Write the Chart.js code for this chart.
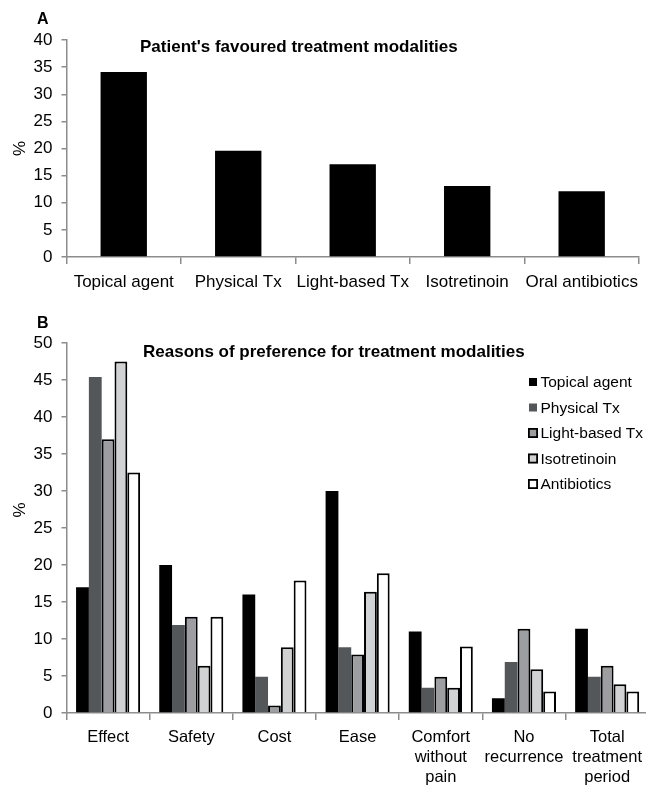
<!DOCTYPE html>
<html>
<head>
<meta charset="utf-8">
<script src="https://cdn.jsdelivr.net/npm/chart.js@4.4.1/dist/chart.umd.min.js"></script>
<style>
  html, body { margin: 0; padding: 0; background: #fff; overflow: hidden; }
  #wrap { position: relative; width: 646px; height: 788px; overflow: hidden; }
  canvas { position: absolute; left: 0; }
  #chartA { top: 0; }
  #chartB { top: 300px; }
</style>
</head>
<body>
<div id="wrap">
  <canvas id="chartA" width="646" height="300"></canvas>
  <canvas id="chartB" width="650" height="488"></canvas>
</div>
<script>
// panel A
const modalities = ["Topical agent", "Physical Tx", "Light-based Tx", "Isotretinoin", "Oral antibiotics"];
const favoured = [34.1, 19.6, 17.1, 13.1, 12.1];

// panel B
const reasons = ["Effect", "Safety", "Cost", "Ease", ["Comfort", "without", "pain"], ["No", "recurrence"], ["Total", "treatment", "period"]];
const seriesNames = ["Topical agent", "Physical Tx", "Light-based Tx", "Isotretinoin", "Antibiotics"];
const topical = [17, 20, 16, 30, 11, 2, 11.4];
const physical = [45.4, 11.9, 4.9, 8.9, 3.4, 6.9, 4.9];
const lightBased = [37, 13, 1, 7.9, 4.9, 11.4, 6.4];
const isotretinoin = [47.5, 6.4, 8.9, 16.4, 3.4, 5.9, 3.9];
const antibiotics = [32.5, 13, 17.9, 18.9, 9, 2.9, 2.9];

const FONT = "'Liberation Sans', Arial, sans-serif";
const axisGray = "#8c8c8c";

Chart.defaults.font.family = FONT;
Chart.defaults.color = "#000";

// letter, title and "%" drawn on top of each chart
const annotPlugin = {
  id: "annot",
  afterDraw(chart, args, opts) {
    const ctx = chart.ctx;
    const area = chart.chartArea;
    ctx.save();
    ctx.fillStyle = "#000";
    ctx.textBaseline = "middle";
    ctx.textAlign = "left";
    ctx.font = "bold 16px " + FONT;
    ctx.fillText(opts.letter, 37, opts.letterY);
    ctx.font = "bold 17px " + FONT;
    ctx.fillText(opts.title, opts.titleX, opts.titleY);
    ctx.translate(20, opts.pctY || (area.top + area.bottom) / 2);
    ctx.rotate(-Math.PI / 2);
    ctx.textAlign = "center";
    ctx.font = "17px " + FONT;
    ctx.fillText("%", 0, 0);
    ctx.restore();
  }
};

// legend inside the plot, top right
const boxLegend = {
  id: "boxLegend",
  afterDraw(chart, args, opts) {
    if (!opts.show) return;
    const ctx = chart.ctx;
    ctx.save();
    ctx.font = "15.5px " + FONT;
    ctx.textBaseline = "middle";
    chart.data.datasets.forEach((ds, i) => {
      const y = opts.y + i * opts.gap;
      const x = opts.x;
      const bw = ds.borderWidth || 0;
      const inset = bw ? 0 : 1;
      ctx.fillStyle = ds.backgroundColor;
      ctx.fillRect(x + inset, y - 5 + inset, 10 - 2 * inset, 10 - 2 * inset);
      if (bw) {
        ctx.strokeStyle = ds.borderColor;
        ctx.lineWidth = 1.8;
        ctx.strokeRect(x + 0.9, y - 4.1, 8.2, 8.2);
      }
      ctx.fillStyle = "#000";
      ctx.fillText(ds.label, x + 12.5, y + 1);
    });
    ctx.restore();
  }
};

function axes(yMax, xHeight, yWidth, xPad, xSize) {
  return {
    x: {
      offset: true,
      grid: { offset: true, drawOnChartArea: false, tickLength: 7, color: axisGray, lineWidth: 1.5 },
      border: { color: axisGray, width: 1.5 },
      ticks: { color: "#000", font: { size: xSize, lineHeight: 1.2 }, padding: xPad, maxRotation: 0, autoSkip: false },
      afterFit: s => { s.height = xHeight; }
    },
    y: {
      min: 0,
      max: yMax,
      ticks: { stepSize: 5, color: "#000", font: { size: 17 }, padding: 9 },
      grid: { drawOnChartArea: false, tickLength: 5, color: axisGray, lineWidth: 1.5 },
      border: { color: axisGray, width: 1.5 },
      afterFit: s => { s.width = yWidth; }
    }
  };
}

new Chart(document.getElementById("chartA"), {
  type: "bar",
  data: {
    labels: modalities,
    datasets: [{
      label: "Favoured",
      data: favoured,
      backgroundColor: "#000",
      borderWidth: 0,
      barPercentage: 0.405,
      categoryPercentage: 1
    }]
  },
  options: {
    responsive: false,
    animation: false,
    devicePixelRatio: 1,
    layout: { padding: { top: 40, right: 1, left: 0, bottom: 0 } },
    plugins: {
      legend: { display: false },
      tooltip: { enabled: false },
      annot: { letter: "A", letterY: 20, title: "Patient's favoured treatment modalities", titleX: 140, titleY: 47 },
      boxLegend: { show: false }
    },
    scales: axes(40, 43, 66.5, 8, 17)
  },
  plugins: [annotPlugin, boxLegend]
});

const fills = ["#000000", "#54575a", "#9c9ea1", "#d1d2d4", "#ffffff"];
const borders = [0, 0, 2, 2, 2];
const seriesB = [topical, physical, lightBased, isotretinoin, antibiotics];

new Chart(document.getElementById("chartB"), {
  type: "bar",
  data: {
    labels: reasons,
    datasets: seriesB.map((vals, i) => ({
      label: seriesNames[i],
      data: vals,
      backgroundColor: fills[i],
      borderColor: "#000",
      borderWidth: borders[i],
      barPercentage: 1,
      categoryPercentage: 0.77
    }))
  },
  options: {
    responsive: false,
    animation: false,
    devicePixelRatio: 1,
    layout: { padding: { top: 43, right: 0, left: 0, bottom: 0 } },
    plugins: {
      legend: { display: false },
      tooltip: { enabled: false },
      annot: { letter: "B", letterY: 24, title: "Reasons of preference for treatment modalities", titleX: 143, titleY: 52, pctY: 210 },
      boxLegend: { show: true, x: 528, y: 82, gap: 25.5 }
    },
    scales: axes(50, 75, 66.5, 8, 16.5)
  },
  plugins: [annotPlugin, boxLegend]
});
</script>
</body>
</html>
